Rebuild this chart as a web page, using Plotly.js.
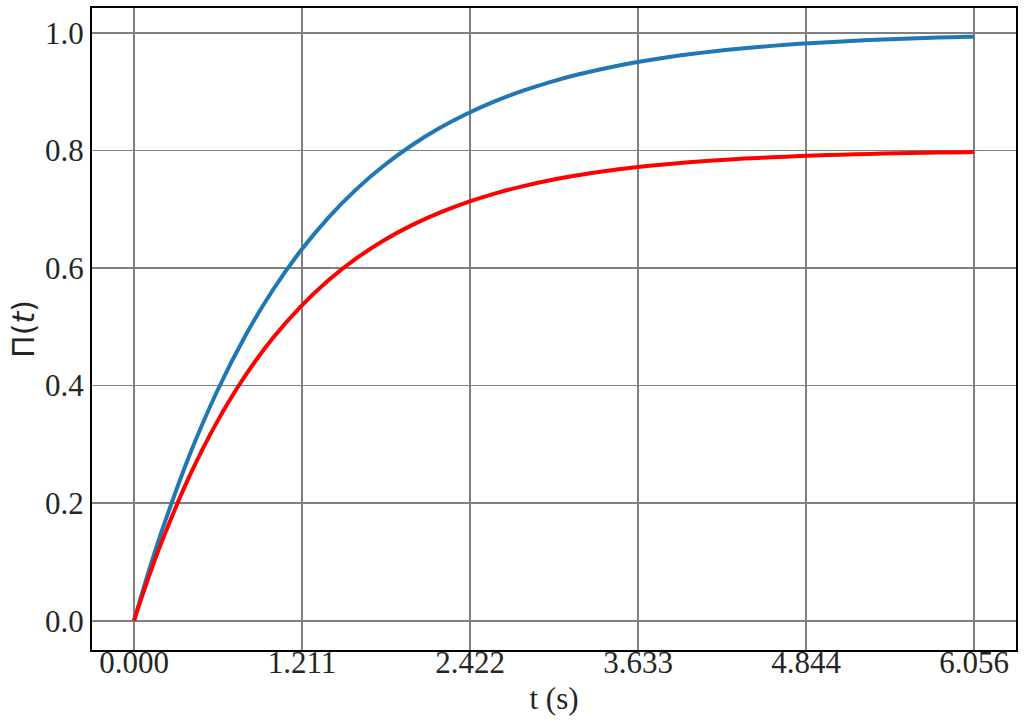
<!DOCTYPE html>
<html>
<head>
<meta charset="utf-8">
<script src="https://cdn.plot.ly/plotly-3.0.1.min.js"></script>
<style>html,body{margin:0;padding:0;background:#fff;}#chart{width:1024px;height:726px;}</style>
</head>
<body>
<div id="chart"></div>
<script>
// time samples (s)
const tValues = [0, 0.1, 0.2, 0.4, 0.6, 0.8, 1.0, 1.2, 1.4, 1.6, 1.8, 2.0, 2.2, 2.4, 2.6, 2.8, 3.0, 3.2, 3.4, 3.6, 3.8, 4.0, 4.2, 4.4, 4.6, 4.8, 5.0, 5.2, 5.4, 5.6, 5.8, 6.0, 6.056];
// blue curve
const blueValues = [0, 0.0793, 0.1522, 0.2813, 0.3907, 0.4834, 0.5620, 0.6287, 0.6852, 0.7331, 0.7737, 0.8082, 0.8374, 0.8621, 0.8831, 0.9009, 0.9160, 0.9288, 0.9396, 0.9488, 0.9566, 0.9632, 0.9688, 0.9736, 0.9776, 0.9810, 0.9839, 0.9863, 0.9884, 0.9902, 0.9917, 0.9929, 0.9933];
// red curve
const redValues = [0, 0.0702, 0.1341, 0.2458, 0.3386, 0.4160, 0.4803, 0.5339, 0.5786, 0.6157, 0.6466, 0.6723, 0.6937, 0.7115, 0.7263, 0.7387, 0.7490, 0.7575, 0.7647, 0.7706, 0.7755, 0.7796, 0.7830, 0.7859, 0.7882, 0.7902, 0.7919, 0.7932, 0.7944, 0.7953, 0.7961, 0.7967, 0.7969];
// tick positions and labels
const xTickVals = [0, 1.2112, 2.4224, 3.6336, 4.8448, 6.056];
const xTickText = ["0.000", "1.211", "2.422", "3.633", "4.844", "6.056"];
const yTickVals = [0, 0.2, 0.4, 0.6, 0.8, 1.0];
const yTickText = ["0.0", "0.2", "0.4", "0.6", "0.8", "1.0"];

const traces = [
  {x: tValues, y: blueValues, mode: 'lines', line: {color: '#1f77b4', width: 4, shape: 'spline', smoothing: 0.8}, showlegend: false},
  {x: tValues, y: redValues, mode: 'lines', line: {color: '#ff0000', width: 4, shape: 'spline', smoothing: 0.8}, showlegend: false}
];

const serif = '"Liberation Serif", "Times New Roman", serif';
const layout = {
  width: 1024, height: 726,
  margin: {l: 92, r: 8, t: 8, b: 76},
  paper_bgcolor: '#ffffff', plot_bgcolor: '#ffffff',
  xaxis: {
    range: [-0.3028, 6.3588],
    tickmode: 'array', tickvals: xTickVals, ticktext: xTickText,
    showgrid: true, gridcolor: '#808080', gridwidth: 1.6,
    zeroline: false, showline: true, mirror: true, linecolor: '#000000', linewidth: 2,
    ticks: '', ticklabelstandoff: -16, tickfont: {family: serif, size: 31, color: '#262626'},
    title: {text: 't (s)', font: {family: serif, size: 31, color: '#262626'}, standoff: 8},
    automargin: false
  },
  yaxis: {
    range: [-0.0498, 1.042],
    tickmode: 'array', tickvals: yTickVals, ticktext: yTickText,
    showgrid: true, gridcolor: '#808080', gridwidth: 1.6,
    zeroline: false, showline: true, mirror: true, linecolor: '#000000', linewidth: 2,
    ticks: '', tickfont: {family: serif, size: 31, color: '#262626'},
    title: {text: 'Π(<i>t</i>)', font: {family: '"DejaVu Sans", sans-serif', size: 30, color: '#262626'}, standoff: 2},
    automargin: false
  }
};

Plotly.newPlot('chart', traces, layout, {staticPlot: true, displayModeBar: false});
</script>
</body>
</html>
